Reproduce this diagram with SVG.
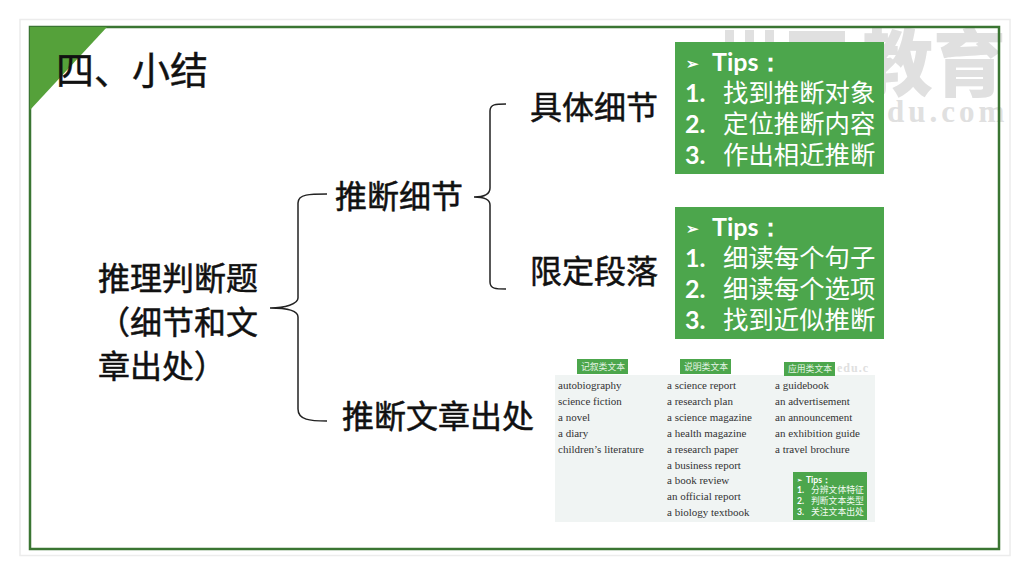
<svg xmlns="http://www.w3.org/2000/svg" width="1024" height="576" viewBox="0 0 1024 576">
<style>
.cjk{font-family:"Noto Sans CJK SC","Noto Sans",sans-serif}
.t32{font-size:32px;fill:#111;stroke:#111;stroke-width:.5}
.brace{fill:none;stroke:#222;stroke-width:1.5}
.box{fill:#4ca64c}
.tip{font-family:"Noto Sans CJK SC",sans-serif;font-size:25.4px;fill:#fff}
.num{font-family:"Lato","Noto Sans",sans-serif;font-size:25px;font-weight:700;fill:#fff}
.en{font-family:"Liberation Serif",serif;font-size:11px;fill:#333}
.tag{font-family:"Noto Sans CJK SC",sans-serif;font-size:8.8px;fill:#e4f3e4}
.stip{font-family:"Noto Sans CJK SC",sans-serif;font-size:8.8px;fill:#f2faf2}
.snum{font-family:"Lato",sans-serif;font-size:8.6px;font-weight:700;fill:#fff}
.wm{fill:#e0e0e0}
</style>
<rect x="0" y="0" width="1024" height="576" fill="#fff"/>
<rect x="20" y="19.500" width="990" height="536" fill="#fff" stroke="#ececec" stroke-width="1.500"/>
<g id="watermark">
<rect class="wm" x="725" y="30" width="9" height="12"/><rect class="wm" x="745" y="30" width="9" height="12"/><rect class="wm" x="765" y="30" width="9" height="12"/>
<rect class="wm" x="789" y="31" width="56" height="11"/>
<text class="cjk wm" x="860" y="90" font-size="73" font-weight="900">教育</text>
<text x="887" y="122" font-family="Liberation Serif,serif" font-size="31" font-weight="700" letter-spacing="4" class="wm">du.com</text>
</g>
<rect id="frame" x="30" y="27" width="969" height="522" fill="none" stroke="#3a7532" stroke-width="2.500"/>
<polygon id="corner" points="30,27 107,27 30,110" fill="#55a13a"/>
<g id="title"><text class="cjk" x="56" y="84" font-size="38" fill="#111" stroke="#111" stroke-width=".4">四、小结</text></g>
<g id="connectors">
<path class="brace" d="M327 194C310 194 298 194 298 203V298C298 304 285 308 270 308C285 308 298 310 298 317V409C298 420 310 421 327 421"/>
<path class="brace" d="M506 104C496 104 490 104 490 111V188C490 194 484 197 474 197C484 197 490 199 490 205V282C490 289 496 289 506 289"/>
</g>
<g id="node-root"><text class="cjk t32" x="98" y="290">推理判断题</text><text class="cjk t32" x="98" y="334">（细节和文</text><text class="cjk t32" x="98" y="378">章出处）</text></g>
<g id="node-detail"><text class="cjk t32" x="335" y="208">推断细节</text></g>
<g id="node-source"><text class="cjk t32" x="342" y="428">推断文章出处</text></g>
<g id="node-specific"><text class="cjk t32" x="530" y="119">具体细节</text></g>
<g id="node-para"><text class="cjk t32" x="530" y="283">限定段落</text></g>
<g id="tips-1">
<rect class="box" x="675" y="42" width="209" height="132"/>
<text class="num" x="686" y="69" style="font-size:15px">➢</text><text class="num" x="712" y="71">Tips：</text>
<text class="num" x="685" y="102">1.</text><text class="tip" x="723" y="102">找到推断对象</text>
<text class="num" x="685" y="133">2.</text><text class="tip" x="723" y="133">定位推断内容</text>
<text class="num" x="685" y="164">3.</text><text class="tip" x="723" y="164">作出相近推断</text>
</g>
<g id="tips-2">
<rect class="box" x="675" y="207" width="209" height="132"/>
<text class="num" x="686" y="234" style="font-size:15px">➢</text><text class="num" x="712" y="236">Tips：</text>
<text class="num" x="685" y="267">1.</text><text class="tip" x="723" y="267">细读每个句子</text>
<text class="num" x="685" y="298">2.</text><text class="tip" x="723" y="298">细读每个选项</text>
<text class="num" x="685" y="329">3.</text><text class="tip" x="723" y="329">找到近似推断</text>
</g>
<g id="text-types">
<text x="837" y="372" font-family="Liberation Serif,serif" font-size="12" font-weight="700" letter-spacing="1" class="wm">edu.c</text>
<rect x="555" y="375" width="320" height="147" fill="#f0f4f3"/>
<rect class="box" x="577" y="359" width="51" height="15"/><text class="tag" x="581" y="370">记叙类文本</text>
<rect class="box" x="680" y="359" width="51" height="15"/><text class="tag" x="684" y="370">说明类文本</text>
<rect class="box" x="784" y="362" width="51" height="14"/><text class="tag" x="788" y="372">应用类文本</text>
<text class="en" x="558" y="389">autobiography</text><text class="en" x="558" y="405">science fiction</text><text class="en" x="558" y="421">a novel</text><text class="en" x="558" y="437">a diary</text><text class="en" x="558" y="453">children’s literature</text>
<text class="en" x="667" y="389">a science report</text><text class="en" x="667" y="405">a research plan</text><text class="en" x="667" y="421">a science magazine</text><text class="en" x="667" y="437">a health magazine</text><text class="en" x="667" y="453">a research paper</text><text class="en" x="667" y="469">a business report</text><text class="en" x="667" y="484">a book review</text><text class="en" x="667" y="500">an official report</text><text class="en" x="667" y="516">a biology textbook</text>
<text class="en" x="775" y="389">a guidebook</text><text class="en" x="775" y="405">an advertisement</text><text class="en" x="775" y="421">an announcement</text><text class="en" x="775" y="437">an exhibition guide</text><text class="en" x="775" y="453">a travel brochure</text>
<rect class="box" x="793" y="472" width="74" height="48"/>
<text class="snum" x="797" y="482" style="font-size:6px">➢</text><text class="snum" x="806" y="483">Tips：</text>
<text class="snum" x="797" y="493">1.</text><text class="stip" x="811" y="493">分辨文体特征</text>
<text class="snum" x="797" y="504">2.</text><text class="stip" x="811" y="504">判断文本类型</text>
<text class="snum" x="797" y="515">3.</text><text class="stip" x="811" y="515">关注文本出处</text>
</g>
</svg>
